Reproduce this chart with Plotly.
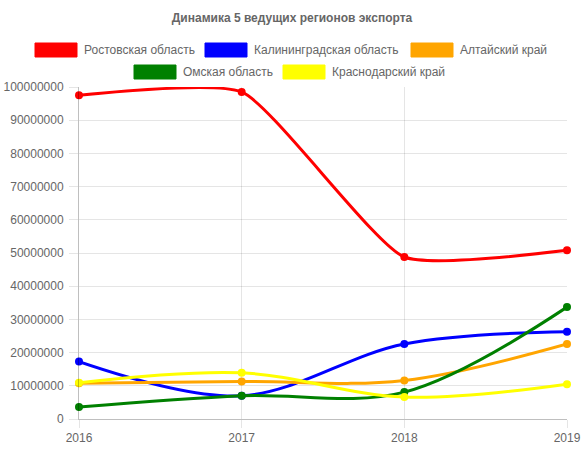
import plotly.graph_objects as go

years = [2016, 2017, 2018, 2019]
names = ["Ростовская область", "Калининградская область", "Алтайский край",
         "Омская область", "Краснодарский край"]
colors = ["#ff0000", "#0000ff", "#ffa500", "#008000", "#ffff00"]
rostov = [97500000, 98500000, 48800000, 50800000]
kalin = [17300000, 7000000, 22600000, 26300000]
altai = [10800000, 11300000, 11600000, 22600000]
omsk = [3600000, 7000000, 8100000, 33700000]
krasnodar = [10900000, 13900000, 6600000, 10500000]
series = [rostov, kalin, altai, omsk, krasnodar]
smooth = [0.5, 1.0, 1.0, 1.0, 1.0]
title = "Динамика 5 ведущих регионов экспорта"

W, H = 584, 450
L, R, T, B = 79, 17, 87, 31
pw, ph = W - L - R, H - T - B

fig = go.Figure()
for name, col, vals, sm in zip(names, colors, series, smooth):
    fig.add_trace(go.Scatter(
        x=years, y=vals, name=name, mode="lines+markers",
        line=dict(color=col, width=3, shape="spline", smoothing=sm),
        marker=dict(color=col, size=8), showlegend=False, cliponaxis=False,
        hoverinfo="skip"))

def px(x):
    return (x - L) / pw

def py(y):
    return (H - B - y) / ph

# manual legend: (box left x, box center y)
legend_pos = [(35, 50), (205, 50), (411, 50), (134, 72), (283, 72)]
shapes = []
annotations = []
for (bx, by), name, col in zip(legend_pos, names, colors):
    shapes.append(dict(type="rect", xref="paper", yref="paper",
                       x0=px(bx), x1=px(bx + 42), y0=py(by + 7), y1=py(by - 7),
                       fillcolor=col, line=dict(color=col, width=1)))
    annotations.append(dict(text=name, xref="paper", yref="paper",
                            x=px(bx + 47), y=py(by), xanchor="left", yanchor="middle",
                            showarrow=False, font=dict(size=12, color="#666")))

fig.update_layout(
    width=W, height=H,
    margin=dict(l=L, r=R, t=T, b=B),
    paper_bgcolor="white", plot_bgcolor="white",
    font=dict(family="Liberation Sans, Arial, Helvetica, sans-serif", size=12, color="#666"),
    title=dict(text="<b>" + title + "</b>", x=0.5, xanchor="center",
               y=1 - 18 / H, yanchor="middle", font=dict(size=12, color="#666")),
    shapes=shapes, annotations=annotations,
    xaxis=dict(range=[2016, 2019], tickvals=years, ticktext=[str(y) for y in years],
               automargin=False,
               showgrid=True, gridcolor="rgba(0,0,0,0.1)", gridwidth=1,
               zeroline=False, showline=True, linecolor="rgba(0,0,0,0.25)",
               ticks="outside", ticklen=8, tickcolor="rgba(0,0,0,0.1)",
               tickfont=dict(size=12, color="#666")),
    yaxis=dict(range=[0, 100000000], dtick=10000000, tickformat="d",
               automargin=False, ticklabelstandoff=3,
               showgrid=True, gridcolor="rgba(0,0,0,0.1)", gridwidth=1,
               zeroline=False, showline=True, linecolor="rgba(0,0,0,0.25)",
               ticks="outside", ticklen=9, tickcolor="rgba(0,0,0,0.1)",
               tickfont=dict(size=12, color="#666")),
)

fig.write_html("out.html", config={"displayModeBar": False},
               post_script="document.body.style.margin='0px';document.body.style.overflow='hidden';")
